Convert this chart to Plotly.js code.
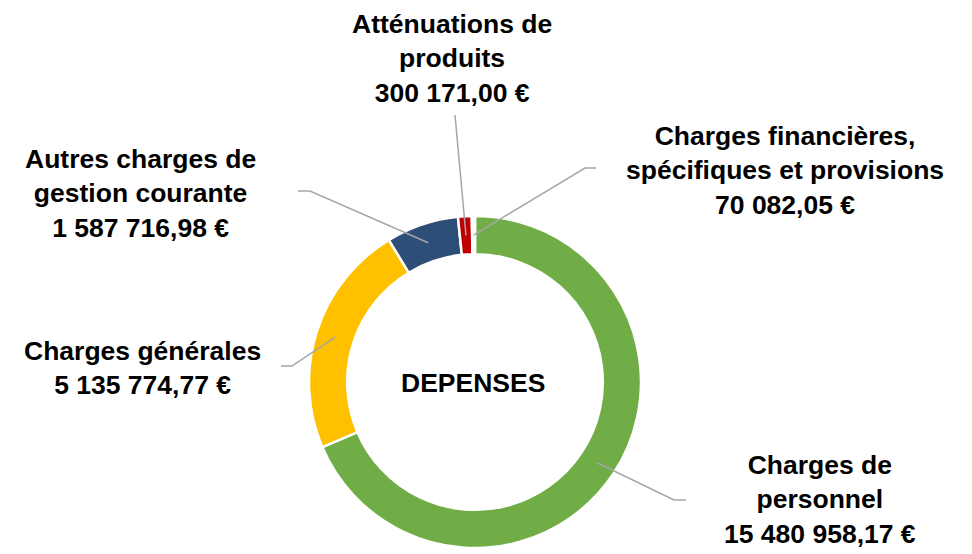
<!DOCTYPE html>
<html>
<head>
<meta charset="utf-8">
<script src="https://cdn.plot.ly/plotly-3.0.1.min.js"></script>
<style>html,body{margin:0;padding:0;background:#fff;}#chart{width:972px;height:554px;}</style>
</head>
<body>
<div id="chart"></div>
<script>
const categories = ["Charges de personnel", "Charges générales", "Autres charges de gestion courante", "Atténuations de produits", "Charges financières, spécifiques et provisions"];
const values = [15480958.17, 5135774.77, 1587716.98, 300171.00, 70082.05];
const labelTexts = ["Charges de<br>personnel<br>15 480 958,17 €", "Charges générales<br>5 135 774,77 €", "Autres charges de<br>gestion courante<br>1 587 716,98 €", "Atténuations de<br>produits<br>300 171,00 €", "Charges financières,<br>spécifiques et provisions<br>70 082,05 €"];
const colors = ["#70AD47", "#FFC000", "#2D4E77", "#C00000", "#FFFFFF"];
const centerText = "DEPENSES";

const W = 972, H = 554;
const cx = 475, cy = 382, R = 166, hole = 0.77;
const FONT = "'Liberation Sans Narrow', 'Arial Narrow', 'Liberation Sans', Arial, sans-serif";
const FS = 26.5;

// label block centers (px) and elbow points (px)
const labelPos = [[820, 500], [142, 368], [140, 193], [452, 58], [785, 171]];
const elbows = [[[686, 500], [674, 500]], [[281, 366], [292, 366]], [[298, 191], [310, 191]], [[455, 115], [455, 115]], [[596, 168], [585, 168]]];

const px = x => x / W, py = y => 1 - y / H;

const total = values.reduce((a, b) => a + b, 0);
let cum = 0;
const shapes = [];
const annotations = [];
values.forEach((v, i) => {
  const mid = (cum + v / 2) / total * 2 * Math.PI;
  cum += v;
  const r = R * (1 + hole) / 2;
  const ex = cx + r * Math.sin(mid), ey = cy - r * Math.cos(mid);
  const [e1, e2] = elbows[i];
  shapes.push({type: 'path', xref: 'paper', yref: 'paper',
    path: `M ${px(e1[0])} ${py(e1[1])} L ${px(e2[0])} ${py(e2[1])} L ${px(ex)} ${py(ey)}`,
    line: {color: '#A6A6A6', width: 1.5}});
  annotations.push({xref: 'paper', yref: 'paper', x: px(labelPos[i][0]), y: py(labelPos[i][1]),
    xanchor: 'center', yanchor: 'middle', showarrow: false, align: 'center',
    text: '<b>' + labelTexts[i] + '</b>', font: {family: FONT, size: FS, color: '#000'}});
});
annotations.push({xref: 'paper', yref: 'paper', x: px(cx - 2), y: py(cy + 1), xanchor: 'center', yanchor: 'middle',
  showarrow: false, text: '<b>' + centerText + '</b>', font: {family: FONT, size: FS, color: '#000'}});

const data = [{
  type: 'pie', labels: categories, values: values, sort: false, direction: 'clockwise', rotation: 0,
  hole: hole, textinfo: 'none', hoverinfo: 'label+value',
  marker: {colors: colors, line: {color: '#FFFFFF', width: 2.5}},
  domain: {x: [px(cx - R), px(cx + R)], y: [py(cy + R), py(cy - R)]}
}];

const layout = {
  width: W, height: H, margin: {l: 0, r: 0, t: 0, b: 0},
  paper_bgcolor: '#fff', plot_bgcolor: '#fff', showlegend: false,
  shapes: shapes, annotations: annotations
};
Plotly.newPlot('chart', data, layout, {displayModeBar: false, staticPlot: true});
</script>
</body>
</html>
